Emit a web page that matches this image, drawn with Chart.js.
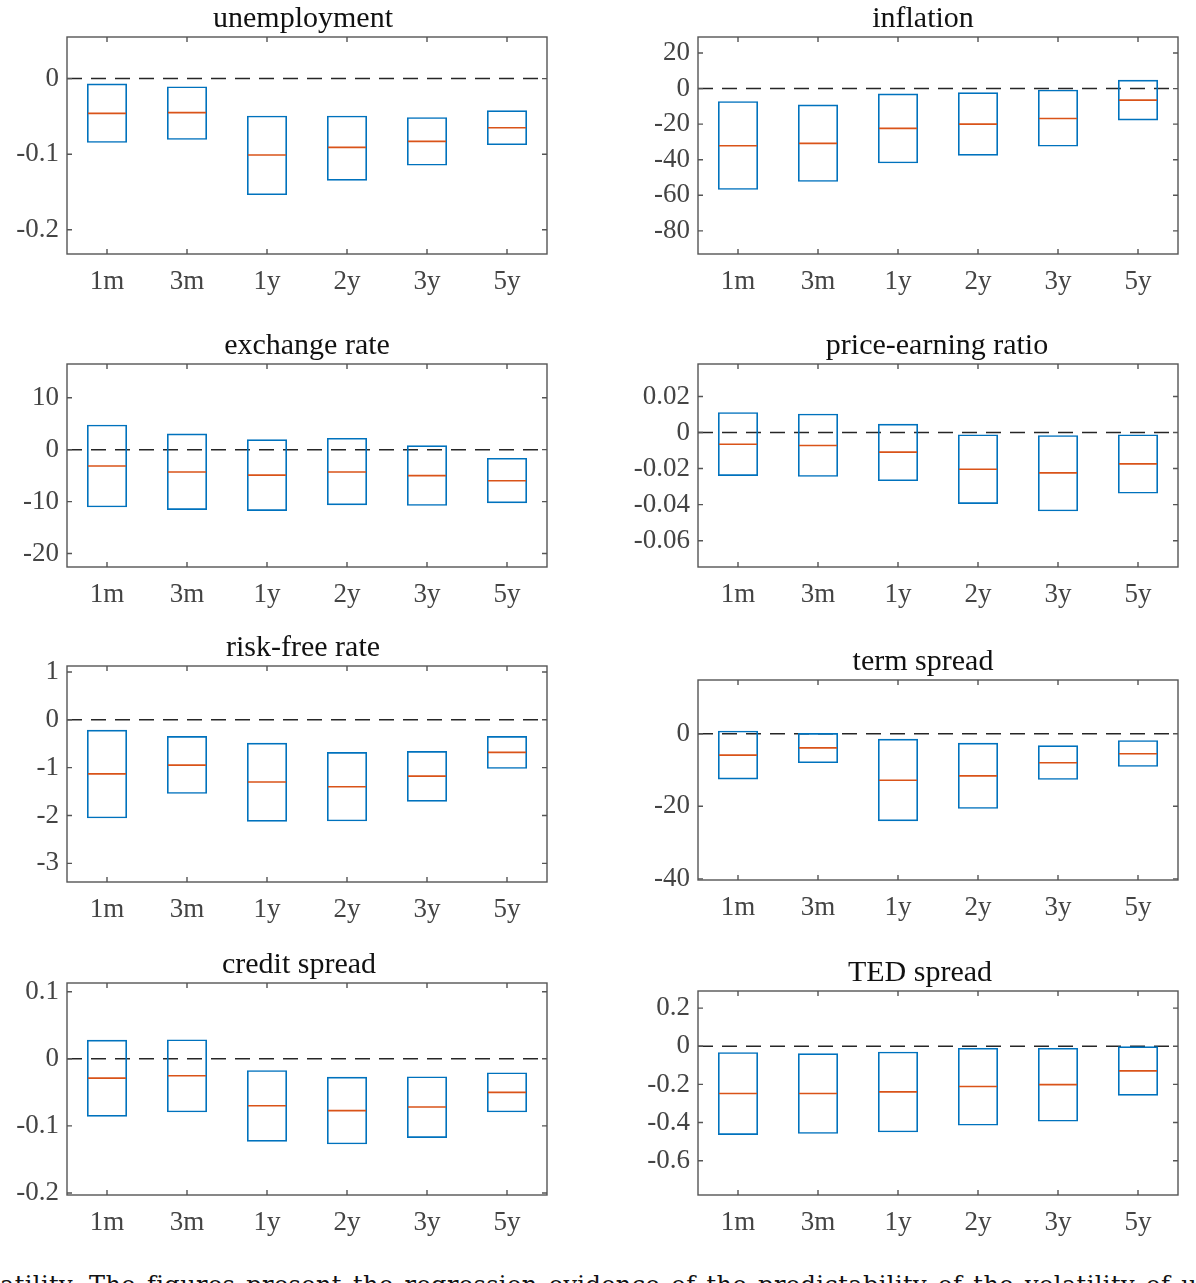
<!DOCTYPE html>
<html>
<head>
<meta charset="utf-8">
<script src="https://cdn.jsdelivr.net/npm/chart.js@4.4.1/dist/chart.umd.min.js"></script>
<style>
  html, body { margin: 0; padding: 0; background: #fff; }
  body { width: 1196px; height: 1283px; overflow: hidden; position: relative; }
  canvas { position: absolute; }
  .caption {
    position: absolute; left: -37px; top: 1271px; white-space: nowrap;
    font-family: 'DejaVu Serif', serif; font-size: 24px; color: #111;
    letter-spacing: 0.42px; word-spacing: 3px;
  }
</style>
</head>
<body>
<div class="caption">volatility. The figures present the regression evidence of the predictability of the volatility of unemployment</div>
<script>
const horizons = ['1m', '3m', '1y', '2y', '3y', '5y']

const unemploymentHigh = [-0.0066, -0.0105, -0.049, -0.049, -0.051, -0.042]
const unemploymentLow = [-0.085, -0.081, -0.154, -0.135, -0.115, -0.088]
const unemploymentMedian = [-0.046, -0.045, -0.101, -0.091, -0.083, -0.065]
const unemploymentTicks = [0, -0.1, -0.2]

const inflationHigh = [-7.1, -9.0, -2.8, -2.1, -0.6, 4.9]
const inflationLow = [-56.9, -52.4, -42.0, -37.7, -32.6, -17.9]
const inflationMedian = [-32.1, -30.8, -22.4, -20.0, -16.8, -6.5]
const inflationTicks = [20, 0, -20, -40, -60, -80]

const exchangeHigh = [4.8, 3.1, 2.0, 2.25, 0.84, -1.6]
const exchangeLow = [-11.1, -11.6, -11.8, -10.7, -10.8, -10.3]
const exchangeMedian = [-3.15, -4.3, -4.9, -4.3, -5.0, -6.0]
const exchangeTicks = [10, 0, -10, -20]

const peHigh = [0.0113, 0.0104, 0.0048, -0.0011, -0.0015, -0.0011]
const peLow = [-0.0241, -0.0246, -0.0269, -0.0396, -0.0437, -0.0339]
const peMedian = [-0.0065, -0.0072, -0.0109, -0.0204, -0.0224, -0.0174]
const peTicks = [0.02, 0, -0.02, -0.04, -0.06]

const riskFreeHigh = [-0.21, -0.34, -0.48, -0.675, -0.654, -0.34]
const riskFreeLow = [-2.06, -1.545, -2.13, -2.12, -1.71, -1.023]
const riskFreeMedian = [-1.13, -0.946, -1.30, -1.40, -1.176, -0.68]
const riskFreeTicks = [1, 0, -1, -2, -3]

const termHigh = [0.83, 0.18, -1.4, -2.5, -3.2, -1.8]
const termLow = [-12.6, -8.1, -24.1, -20.7, -12.7, -9.1]
const termMedian = [-5.9, -3.9, -12.8, -11.6, -8.0, -5.5]
const termTicks = [0, -20, -40]

const creditHigh = [0.0283, 0.0288, -0.0169, -0.0268, -0.0263, -0.0203]
const creditLow = [-0.0863, -0.0798, -0.1235, -0.1274, -0.118, -0.0798]
const creditMedian = [-0.0288, -0.0253, -0.0699, -0.0773, -0.0719, -0.0501]
const creditTicks = [0.1, 0, -0.1, -0.2]

const tedHigh = [-0.031, -0.037, -0.028, -0.009, -0.009, 0.0]
const tedLow = [-0.465, -0.459, -0.451, -0.416, -0.395, -0.259]
const tedMedian = [-0.248, -0.248, -0.239, -0.211, -0.201, -0.129]
const tedTicks = [0.2, 0, -0.2, -0.4, -0.6]

const FONT = "'Liberation Serif', 'Times New Roman', serif"
const AXIS_W = 67, PAD_TOP = 40, PAD_RIGHT = 12, XAXIS_H = 44

// frame, inward ticks, dashed zero line and title (matlab look)
const panelFrame = {
    id: 'panelFrame',
    beforeDatasetsDraw(chart, args, opts) {
        const {ctx, chartArea: a, scales: {y}} = chart
        const y0 = y.getPixelForValue(0)

        ctx.save()
        ctx.strokeStyle = '#262626'
        ctx.lineWidth = 1.5
        ctx.setLineDash([15, 9])
        ctx.beginPath()
        ctx.moveTo(a.left, y0)
        ctx.lineTo(a.right, y0)
        ctx.stroke()
        ctx.restore()
    },
    afterDraw(chart, args, opts) {
        const {ctx, chartArea: a, scales: {x, y}} = chart

        ctx.save()
        ctx.strokeStyle = '#555'
        ctx.lineWidth = 1.4
        ctx.strokeRect(a.left, a.top, a.right - a.left, a.bottom - a.top)

        ctx.beginPath()
        y.ticks.forEach(t => {
            const py = y.getPixelForValue(t.value)
            ctx.moveTo(a.left, py)
            ctx.lineTo(a.left + 5, py)
            ctx.moveTo(a.right, py)
            ctx.lineTo(a.right - 5, py)
        })
        x.ticks.forEach((t, i) => {
            const px = x.getPixelForTick(i)
            ctx.moveTo(px, a.bottom)
            ctx.lineTo(px, a.bottom - 5)
            ctx.moveTo(px, a.top)
            ctx.lineTo(px, a.top + 5)
        })
        ctx.stroke()

        ctx.fillStyle = '#111'
        ctx.font = `30px ${FONT}`
        ctx.textAlign = 'center'
        ctx.textBaseline = 'alphabetic'
        ctx.fillText(opts.text, opts.cx, a.top - 10.5)
        ctx.restore()
    }
}

const panelLimits = {
    'unemployment': [-0.232, 0.055],
    'inflation': [-93, 29],
    'exchange rate': [-22.6, 16.5],
    'price-earning ratio': [-0.0746, 0.038],
    'risk-free rate': [-3.39, 1.125],
    'term spread': [-40.3, 14.8],
    'credit spread': [-0.203, 0.113],
    'TED spread': [-0.78, 0.29]
}

const makePanel = (title, titleX, left, top, bottom, low, high, median, ticks) => {
    const canvas = document.createElement('canvas')
    const width = 480 + AXIS_W + PAD_RIGHT
    const height = (bottom - top) + PAD_TOP + XAXIS_H

    canvas.width = width
    canvas.height = height
    canvas.style.left = `${left - AXIS_W}px`
    canvas.style.top = `${top - PAD_TOP}px`
    document.body.appendChild(canvas)

    return new Chart(canvas, {
        type: 'bar',
        data: {
            labels: horizons,
            datasets: [{
                type: 'line',
                data: median,
                showLine: false,
                pointStyle: 'line',
                pointRadius: 19,
                pointHoverRadius: 19,
                pointBorderColor: '#D95319',
                pointBorderWidth: 1.6,
                borderColor: '#D95319',
                order: 1
            }, {
                type: 'bar',
                data: low.map((v, i) => [v, high[i]]),
                backgroundColor: 'rgba(0,0,0,0)',
                borderColor: '#0072BD',
                borderWidth: 1.6,
                borderSkipped: false,
                barPercentage: 0.5,
                categoryPercentage: 1,
                order: 2
            }]
        },
        options: {
            responsive: false,
            animation: false,
            devicePixelRatio: 1,
            layout: {autoPadding: false, padding: {top: PAD_TOP, right: PAD_RIGHT, left: 0, bottom: 0}},
            plugins: {
                legend: {display: false},
                tooltip: {enabled: false},
                panelFrame: {text: title, cx: titleX - (left - AXIS_W)}
            },
            scales: {
                x: {
                    offset: true,
                    grid: {display: false, drawTicks: false},
                    border: {display: false},
                    ticks: {font: {family: FONT, size: 27}, color: '#444', padding: 12, maxRotation: 0, autoSkip: false},
                    afterFit: s => {
                        s.height = XAXIS_H
                        s.paddingLeft = 0
                        s.paddingRight = 0
                    }
                },
                y: {
                    min: panelLimits[title][0],
                    max: panelLimits[title][1],
                    grid: {display: false, drawTicks: false},
                    border: {display: false},
                    ticks: {font: {family: FONT, size: 27}, color: '#444', padding: 8, callback: v => String(v)},
                    afterBuildTicks: s => { s.ticks = ticks.map(v => ({value: v})) },
                    afterFit: s => {
                        s.width = AXIS_W
                        s.paddingTop = 0
                        s.paddingBottom = 0
                    }
                }
            }
        },
        plugins: [panelFrame]
    })
}

makePanel('unemployment', 303, 67, 37, 254, unemploymentLow, unemploymentHigh, unemploymentMedian, unemploymentTicks)
makePanel('inflation', 923, 698, 37, 254, inflationLow, inflationHigh, inflationMedian, inflationTicks)
makePanel('exchange rate', 307, 67, 364, 567, exchangeLow, exchangeHigh, exchangeMedian, exchangeTicks)
makePanel('price-earning ratio', 937, 698, 364, 567, peLow, peHigh, peMedian, peTicks)
makePanel('risk-free rate', 303, 67, 666, 882, riskFreeLow, riskFreeHigh, riskFreeMedian, riskFreeTicks)
makePanel('term spread', 923, 698, 680, 880, termLow, termHigh, termMedian, termTicks)
makePanel('credit spread', 299, 67, 983, 1195, creditLow, creditHigh, creditMedian, creditTicks)
makePanel('TED spread', 920, 698, 991, 1195, tedLow, tedHigh, tedMedian, tedTicks)
</script>
</body>
</html>
